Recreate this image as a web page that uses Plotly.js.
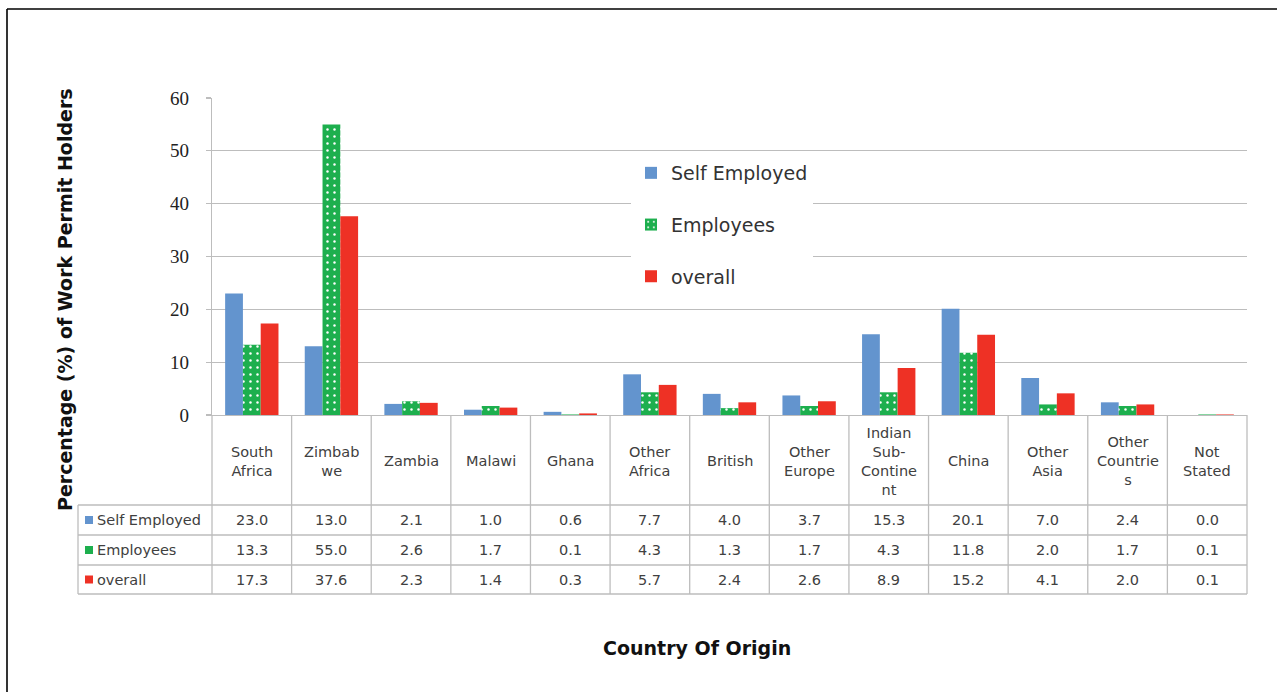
<!DOCTYPE html>
<html>
<head>
<meta charset="utf-8">
<script src="https://cdn.plot.ly/plotly-3.0.1.min.js"></script>
<style>html,body{margin:0;padding:0;background:#fff;}#chart{width:1277px;height:692px;}</style>
</head>
<body>
<div id="chart"></div>
<script>
// ---- data ----
const categories = ["South Africa","Zimbabwe","Zambia","Malawi","Ghana","Other Africa","British","Other Europe","Indian Sub-Continent","China","Other Asia","Other Countries","Not Stated"];
const headerLabels = ["South<br>Africa","Zimbab<br>we","Zambia","Malawi","Ghana","Other<br>Africa","British","Other<br>Europe","Indian<br>Sub-<br>Contine<br>nt","China","Other<br>Asia","Other<br>Countrie<br>s","Not<br>Stated"];
const selfEmployed = [23.0,13.0,2.1,1.0,0.6,7.7,4.0,3.7,15.3,20.1,7.0,2.4,0.0];
const employees    = [13.3,55.0,2.6,1.7,0.1,4.3,1.3,1.7,4.3,11.8,2.0,1.7,0.1];
const overall      = [17.3,37.6,2.3,1.4,0.3,5.7,2.4,2.6,8.9,15.2,4.1,2.0,0.1];
const seriesNames  = ["Self Employed","Employees","overall"];
const yTicks = [0,10,20,30,40,50,60];

// ---- style ----
const W = 1277, H = 692, ML = 212, MR = 30, MT = 98, MB = 277;
const PW = W - ML - MR, PH = H - MT - MB;
const px = x => (x - ML) / PW;           // pixel -> paper x
const py = y => (H - MB - y) / PH;       // pixel -> paper y
const BLUE = "#6394CE", GREEN = "#1DAF4E", RED = "#EE3125";
const GRID = "#BDBDBD", TXT = "#404040";
const FONT = "DejaVu Sans";

const traces = [
  {type:"bar", name:seriesNames[0], x:categories, y:selfEmployed, legendgroup:"a",
   marker:{color:BLUE, line:{width:0}}, hoverinfo:"x+y"},
  {type:"bar", name:seriesNames[1], x:categories, y:employees, legendgroup:"b",
   marker:{color:GREEN, line:{width:0}, pattern:{shape:".", bgcolor:GREEN, fgcolor:"#ffffff", size:7, solidity:0.1, fillmode:"replace"}}, hoverinfo:"x+y"},
  {type:"bar", name:seriesNames[2], x:categories, y:overall, legendgroup:"c",
   marker:{color:RED, line:{width:0}}, hoverinfo:"x+y"}
];

// ---- table (shapes + annotations) ----
const n = categories.length;
const colEdge = k => k / n;               // paper x of column boundary k
const yTop = 0, yHead = py(505), yR1 = py(535), yR2 = py(565), yBot = py(594);
const xKey = px(78);
const shapes = [];
const L = (x0,y0,x1,y1,c,w) => shapes.push({type:"line", xref:"paper", yref:"paper", x0, y0, x1, y1, line:{color:c||GRID, width:w||1.3}});
for (let k = 0; k <= n; k++) L(colEdge(k), yTop, colEdge(k), yBot);
L(xKey, yHead, xKey, yBot);
[yHead, yR1, yR2, yBot].forEach(y => L(xKey, y, 1, y));
// frame around the picture
L(px(7), py(9), px(W), py(9), "#000", 1.6);
L(px(7), py(9), px(7), py(H), "#000", 1.6);

const annotations = [];
categories.forEach((c, i) => {
  annotations.push({xref:"x", yref:"paper", x:c, y:py(461), text:headerLabels[i], showarrow:false,
    xanchor:"center", yanchor:"middle", align:"center", font:{family:FONT, size:14.5, color:TXT}});
});
const rows = [selfEmployed, employees, overall];
const rowY = [py(520), py(550), py(579.5)];
const keyColors = [BLUE, GREEN, RED];
rows.forEach((vals, r) => {
  vals.forEach((v, i) => {
    annotations.push({xref:"x", yref:"paper", x:categories[i], y:rowY[r], text:v.toFixed(1), showarrow:false,
      xanchor:"center", yanchor:"middle", font:{family:FONT, size:14.5, color:TXT}});
  });
  annotations.push({xref:"paper", yref:"paper", x:px(95), y:rowY[r], text:seriesNames[r], showarrow:false,
    xanchor:"left", yanchor:"middle", font:{family:FONT, size:14.5, color:TXT}});
  shapes.push({type:"rect", xref:"paper", yref:"paper", x0:px(85), x1:px(93), y0:rowY[r]-4/PH, y1:rowY[r]+4/PH,
    fillcolor:keyColors[r], line:{width:0}});
});
// axis titles
annotations.push({xref:"paper", yref:"paper", x:px(697), y:py(648), text:"<b>Country Of Origin</b>", showarrow:false,
  xanchor:"center", yanchor:"middle", font:{family:FONT, size:19, color:"#111"}});
annotations.push({xref:"paper", yref:"paper", x:px(65), y:py(300), text:"<b>Percentage (%) of Work Permit Holders</b>", showarrow:false,
  textangle:-90, xanchor:"center", yanchor:"middle", font:{family:FONT, size:19, color:"#111"}});

const layout = {
  width:W, height:H,
  margin:{l:ML, r:MR, t:MT, b:MB, pad:0},
  paper_bgcolor:"#fff", plot_bgcolor:"#fff",
  barmode:"group", bargap:0.33, bargroupgap:0,
  showlegend:true,
  legend:{x:px(631), y:py(154), xanchor:"left", yanchor:"top", bgcolor:"#fff",
    font:{family:FONT, size:19, color:"#333"}, traceorder:"grouped", tracegroupgap:24, itemwidth:30},
  xaxis:{type:"category", showticklabels:false, showgrid:false, zeroline:false,
    showline:true, linecolor:GRID, linewidth:1.3, ticks:"", range:[-0.5, n-0.5], fixedrange:true},
  yaxis:{range:[0,60], tickvals:yTicks, showgrid:true, gridcolor:GRID, gridwidth:1.3, zeroline:false,
    showline:true, linecolor:GRID, linewidth:1.3, ticks:"outside", ticklen:5, tickcolor:GRID, tickwidth:1.3,
    ticklabelstandoff:13, tickfont:{family:"Liberation Serif", size:19, color:"#222"},
    fixedrange:true},
  shapes, annotations
};
Plotly.newPlot("chart", traces, layout, {displayModeBar:false, staticPlot:true});
</script>
</body>
</html>
